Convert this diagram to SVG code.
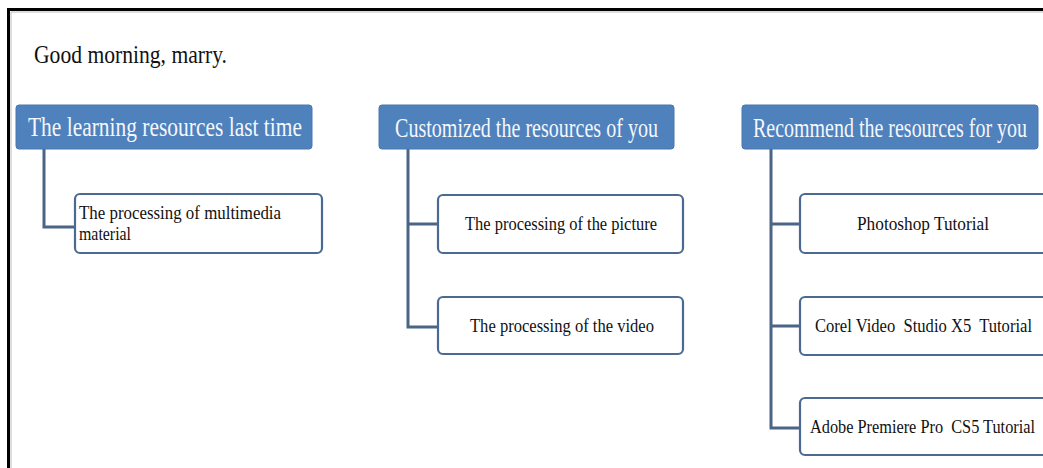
<svg xmlns="http://www.w3.org/2000/svg" width="1043" height="468" viewBox="0 0 1043 468">
<style>
.frame{stroke:#000;stroke-width:3;fill:none}
.hdr{fill:#4f81bd;stroke:#4a76ad;stroke-width:1}
.hdrt{fill:#f4f7fb;font-family:"Liberation Serif",serif;font-size:27px}
.child{fill:#fff;stroke:#4b6a92;stroke-width:2.2}
.ct{fill:#111;font-family:"Liberation Serif",serif;font-size:18.5px}
.conn{stroke:#4b6587;stroke-width:3;fill:none}
.greet{fill:#111;font-family:"Liberation Serif",serif;font-size:25px}
</style>
<rect width="1043" height="468" fill="#fff"/>
<path class="frame" d="M8.5,468 V9.5 H1043"/>
<path d="M11,468 V12 H1043" stroke="#bbb" stroke-width="1" fill="none"/>
<g id="greeting"><text class="greet" x="34" y="63" textLength="193" lengthAdjust="spacingAndGlyphs">Good morning, marry.</text></g>
<g id="connectors">
<path class="conn" d="M44,149 V227 H75"/>
<path class="conn" d="M408,149 V327 H438 M408,224 H438"/>
<path class="conn" d="M771,149 V428 H800 M771,224 H800 M771,326 H800"/>
</g>
<g id="h1"><rect class="hdr" x="16" y="105" width="296" height="44" rx="3"/><text class="hdrt" x="28" y="136" textLength="274" lengthAdjust="spacingAndGlyphs">The learning resources last time</text></g>
<g id="h2"><rect class="hdr" x="379" y="105" width="295" height="44" rx="3"/><text class="hdrt" x="395" y="137" textLength="263" lengthAdjust="spacingAndGlyphs">Customized the resources of you</text></g>
<g id="h3"><rect class="hdr" x="742" y="105" width="296" height="44" rx="3"/><text class="hdrt" x="753" y="137" textLength="274" lengthAdjust="spacingAndGlyphs">Recommend the resources for you</text></g>
<g id="c1"><rect class="child" x="75" y="194" width="247" height="59" rx="5"/><text class="ct" x="79" y="219" textLength="202" lengthAdjust="spacingAndGlyphs">The processing of multimedia</text><text class="ct" x="79" y="240" textLength="52" lengthAdjust="spacingAndGlyphs">material</text></g>
<g id="c2"><rect class="child" x="438" y="195" width="245" height="58" rx="5"/><text class="ct" x="465" y="230" textLength="192" lengthAdjust="spacingAndGlyphs">The processing of the picture</text></g>
<g id="c3"><rect class="child" x="438" y="297" width="245" height="57" rx="5"/><text class="ct" x="470" y="332" textLength="184" lengthAdjust="spacingAndGlyphs">The processing of the video</text></g>
<g id="c4"><rect class="child" x="800" y="194" width="260" height="59" rx="5"/><text class="ct" x="857" y="230" textLength="132" lengthAdjust="spacingAndGlyphs">Photoshop Tutorial</text></g>
<g id="c5"><rect class="child" x="800" y="297" width="260" height="58" rx="5"/><text class="ct" x="815" y="332" textLength="217" lengthAdjust="spacingAndGlyphs" xml:space="preserve">Corel Video  Studio X5  Tutorial</text></g>
<g id="c6"><rect class="child" x="800" y="398" width="260" height="57" rx="5"/><text class="ct" x="810" y="433" textLength="225" lengthAdjust="spacingAndGlyphs" xml:space="preserve">Adobe Premiere Pro  CS5 Tutorial</text></g>
</svg>
